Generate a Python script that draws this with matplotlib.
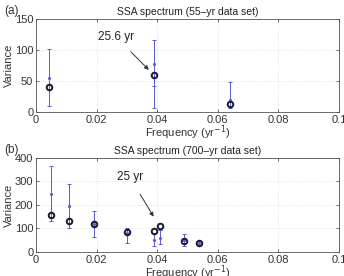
import matplotlib
matplotlib.use("Agg")
import matplotlib.pyplot as plt

plt.rcParams['font.family'] = ['Liberation Sans', 'DejaVu Sans']

# (a) 55-yr data set
freq_a = [0.0043, 0.0388, 0.0639]
var_a = [41, 59, 13]
lo_a = [9, 7, 6]
hi_a = [102, 117, 48]
mid_a = [55, 78, 20]
ilo_a = [40, 42, 8]

# (b) 700-yr data set
freq_b = [0.0050, 0.0110, 0.0192, 0.0300, 0.0388, 0.0410, 0.0487, 0.0539]
var_b = [157, 132, 118, 83, 90, 112, 47, 40]
lo_b = [132, 101, 63, 37, 25, 34, 27, 30]
hi_b = [366, 288, 176, 102, 80, 95, 75, 46]
mid_b = [248, 197, 120, 82, 50, 61, 50, 38]

xticks = [0, 0.02, 0.04, 0.06, 0.08, 0.1]
xtick_labels = ['0', '0.02', '0.04', '0.06', '0.08', '0.1']

blue = '#5a5ad6'
fig = plt.figure(figsize=(3.44, 2.76), dpi=100)
ax1 = fig.add_axes([0.105, 0.594, 0.88, 0.337])
ax2 = fig.add_axes([0.105, 0.087, 0.88, 0.341])


def panel(ax, f, v, lo, hi, mid, ymax, yticks, title, tag):
    ax.vlines(f, lo, hi, color=blue, lw=0.7, zorder=2)
    ax.plot(f, lo, '_', color=blue, ms=3, mew=0.7, zorder=2)
    ax.plot(f, hi, '_', color=blue, ms=3, mew=0.7, zorder=2)
    ax.plot(f, mid, '.', color=blue, ms=2.5, zorder=2)
    ax.plot(f, v, 'o', mfc='none', mec='#1a1a2e', mew=1.4, ms=4, zorder=3)
    ax.set_xlim(0, 0.1)
    ax.set_ylim(0, ymax)
    ax.set_xticks(xticks)
    ax.set_xticklabels(xtick_labels)
    ax.set_yticks(yticks)
    ax.tick_params(direction='in', length=2.5, labelsize=8, width=0.5,
                   colors='#333333', top=True, right=True, pad=2)
    ax.grid(True, ls=':', color='#dcdcdc', lw=0.6)
    for s in ax.spines.values():
        s.set_linewidth(0.6)
        s.set_color('#555555')
    ax.set_xlabel('Frequency (yr$^{-1}$)', fontsize=8, labelpad=-1, color='#333333')
    ax.set_ylabel('Variance', fontsize=8, labelpad=1, color='#333333')
    ax.set_title(title, fontsize=7.5, pad=3, color='#222222')
    ax.text(-0.105, 1.02, tag, transform=ax.transAxes, fontsize=8.5,
            color='#333333', va='bottom')


panel(ax1, freq_a, var_a, lo_a, hi_a, mid_a, 150, [0, 50, 100, 150],
      'SSA spectrum (55\u2013yr data set)', '(a)')
ax1.plot(freq_a[1], ilo_a[1], '_', color=blue, ms=3, mew=0.7)
ax1.annotate('25.6 yr', xy=(0.0372, 68), xytext=(0.0265, 121),
             fontsize=8.5, ha='center', va='center', color='#222222',
             arrowprops=dict(arrowstyle='-|>', color='#333333', lw=0.7,
                             mutation_scale=6, shrinkA=6, shrinkB=0))

panel(ax2, freq_b, var_b, lo_b, hi_b, mid_b, 400, [0, 100, 200, 300, 400],
      'SSA spectrum (700\u2013yr data set)', '(b)')
ax2.annotate('25 yr', xy=(0.0388, 150), xytext=(0.031, 318),
             fontsize=8.5, ha='center', va='center', color='#222222',
             arrowprops=dict(arrowstyle='-|>', color='#333333', lw=0.7,
                             mutation_scale=6, shrinkA=7, shrinkB=0))

fig.savefig('out.png', dpi=100)
